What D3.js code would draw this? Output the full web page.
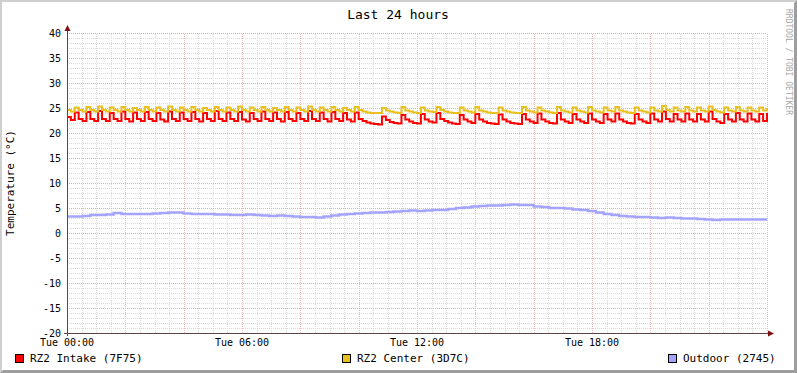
<!DOCTYPE html>
<html>
<head>
<meta charset="utf-8">
<script src="https://cdn.jsdelivr.net/npm/d3@7"></script>
<style>
  body { margin: 0; background: #fff; }
  text { font-family: "DejaVu Sans Mono", monospace; fill: #000; }
</style>
</head>
<body>
<div id="chart"></div>
<script>
// set up chart

var width = 797,
  height = 373;

var title = "Last 24 hours";
var yLabel = "Temperature (°C)";
var watermark = "RRDTOOL / TOBI OETIKER";

var yTicks = [-20, -15, -10, -5, 0, 5, 10, 15, 20, 25, 30, 35, 40];
var xTickHours = [0, 6, 12, 18];
var xTickLabels = ["Tue 00:00", "Tue 06:00", "Tue 12:00", "Tue 18:00"];

var seriesNames = ["RZ2 Intake (7F75)", "RZ2 Center (3D7C)", "Outdoor (2745)"];
var seriesColors = ["#ff0000", "#e8c020", "#a4a4ff"];

// sample interval in minutes
var fastStep = 8;
var slowStep = 16;

var intake = [23.2, 22.6,
  24.1, 22.8, 22.4, 24.2, 22.8, 22.4, 24.4, 22.8, 22.4, 24.0, 22.8, 22.4,
  24.3, 22.8, 22.3, 24.1, 22.8, 22.4, 24.2, 22.8, 22.4, 24.0, 22.7, 22.3,
  24.3, 22.8, 22.4, 24.1, 22.8, 22.4, 24.2, 22.8, 22.3, 24.0, 22.8, 22.4,
  24.4, 22.8, 22.4, 24.1, 22.8, 22.4, 24.2, 22.7, 22.3, 24.0, 22.8, 22.4,
  24.3, 22.8, 22.4, 24.1, 22.8, 22.3, 24.2, 22.8, 22.4, 24.0, 22.8, 22.4,
  24.4, 22.8, 22.4, 24.1, 22.8, 22.3, 24.2, 22.8, 22.4, 24.0, 22.7, 22.3,
  24.1, 22.8, 22.4, 22.1, 21.9, 21.8, 21.7,
  23.3, 22.6, 22.2, 22.0, 21.9,
  23.6, 22.7, 22.3, 22.0, 21.9,
  23.8, 22.7, 22.3, 22.1,
  24.0, 22.8, 22.4, 22.1, 21.9, 21.8,
  23.6, 22.7, 22.3, 22.0,
  23.8, 22.7, 22.3, 22.0, 21.9, 21.8,
  23.7, 22.7, 22.3, 22.0, 21.9, 21.8,
  23.8, 22.7, 22.3, 22.0,
  23.9, 22.7, 22.3, 22.0, 21.9,
  24.0, 22.7, 22.3, 22.0,
  23.8, 22.7, 22.3, 22.0,
  23.9, 22.7, 22.3, 22.0,
  23.8, 22.7, 22.3,
  23.9, 22.7, 22.3, 22.0, 21.9,
  23.8, 22.7, 22.3, 22.0,
  23.9, 22.7, 22.3,
  24.3, 22.8, 22.3,
  23.8, 22.7, 22.3,
  23.9, 22.7, 22.3,
  23.8, 22.7, 22.3,
  24.3, 22.8, 22.3, 22.0,
  23.8, 22.7, 22.3,
  24.0, 22.7, 22.3,
  23.9, 22.7, 22.3,
  23.8, 22.4,
  24.0];

var center = [24.6, 24.3,
  25.1, 24.6, 24.3, 25.2, 24.6, 24.3, 25.3, 24.6, 24.3, 25.1, 24.6, 24.3,
  25.2, 24.6, 24.3, 25.0, 24.6, 24.3, 25.2, 24.6, 24.3, 25.1, 24.6, 24.3,
  25.3, 24.6, 24.3, 25.1, 24.6, 24.3, 25.2, 24.6, 24.3, 25.0, 24.6, 24.3,
  25.2, 24.6, 24.3, 25.1, 24.6, 24.3, 25.3, 24.6, 24.3, 25.1, 24.6, 24.3,
  25.2, 24.6, 24.3, 25.0, 24.6, 24.3, 25.2, 24.6, 24.3, 25.1, 24.6, 24.3,
  25.3, 24.6, 24.3, 25.1, 24.6, 24.3, 25.2, 24.6, 24.3, 25.0, 24.6, 24.3,
  25.2, 24.6, 24.3, 24.1, 24.0, 24.0, 24.0,
  25.0, 24.5, 24.3, 24.1, 24.0,
  25.2, 24.5, 24.3, 24.1, 24.0,
  25.1, 24.5, 24.3, 24.2,
  25.2, 24.6, 24.3, 24.1, 24.0, 24.0,
  25.1, 24.5, 24.3, 24.1,
  25.2, 24.5, 24.3, 24.1, 24.0, 24.0,
  25.1, 24.5, 24.3, 24.1, 24.0, 24.0,
  25.2, 24.5, 24.3, 24.1,
  25.1, 24.5, 24.3, 24.1, 24.0,
  25.2, 24.5, 24.3, 24.1,
  25.1, 24.5, 24.3, 24.1,
  25.2, 24.5, 24.3, 24.1,
  25.1, 24.5, 24.3,
  25.2, 24.5, 24.3, 24.1, 24.0,
  25.1, 24.5, 24.3, 24.1,
  25.1, 24.5, 24.3,
  25.4, 24.6, 24.3,
  25.1, 24.5, 24.3,
  25.2, 24.5, 24.3,
  25.1, 24.5, 24.3,
  25.3, 24.6, 24.3, 24.1,
  25.1, 24.5, 24.3,
  25.2, 24.5, 24.3,
  25.1, 24.5, 24.3,
  25.1, 24.5,
  25.0];

var outdoor = [3.3, 3.3, 3.4, 3.6, 3.6, 3.7, 4.0, 3.8, 3.8, 3.8,
  3.8, 3.9, 4.0, 4.1, 4.1, 3.9, 3.8, 3.8, 3.8, 3.7,
  3.7, 3.6, 3.6, 3.7, 3.6, 3.5, 3.4, 3.5, 3.4, 3.3,
  3.2, 3.2, 3.1, 3.3, 3.5, 3.7, 3.8, 3.9, 4.0, 4.1,
  4.1, 4.2, 4.3, 4.4, 4.5, 4.4, 4.5, 4.6, 4.6, 4.8,
  5.0, 5.1, 5.3, 5.4, 5.5, 5.5, 5.6, 5.7, 5.6, 5.6,
  5.3, 5.2, 5.0, 5.0, 4.9, 4.7, 4.6, 4.4, 4.1, 3.8,
  3.6, 3.4, 3.3, 3.2, 3.2, 3.1, 3.0, 3.1, 3.0, 2.9,
  2.9, 2.8, 2.7, 2.6, 2.7, 2.7, 2.7, 2.7, 2.7, 2.7,
  2.7];

var x = d3.scaleLinear().domain([0, 24]).range([67, 767]);
var y = d3.scaleLinear().domain([-20, 40]).range([333, 33]);

var svg = d3.select("#chart").append("svg")
    .attr("width", width)
    .attr("height", height);

// canvas and 3d frame

svg.append("rect")
  .attr("width", width)
  .attr("height", height)
  .attr("fill", "#ffffff");

svg.append("path")
  .attr("d", "M0,0H" + width + "L" + (width - 2) + ",2H2V" + (height - 2) + "L0," + height + "Z")
  .attr("fill", "#cfcfcf");
svg.append("path")
  .attr("d", "M" + width + ",0V" + height + "H0L3," + (height - 3) + "H" + (width - 3) + "V3Z")
  .attr("fill", "#9e9e9e");

// grid

var minorX = d3.range(0, 24.01, 0.5).filter(function(h) { return h % 2 != 0; });
var majorX = d3.range(0, 24.01, 2);
var minorY = d3.range(-20, 40.01, 1).filter(function(v) { return v % 5 != 0; });

var grid = svg.append("g").attr("shape-rendering", "crispEdges");

grid.selectAll("line.minx")
  .data(minorX)
  .enter().append("line")
  .attr("x1", function(d) { return Math.round(x(d)) + 0.5; })
  .attr("x2", function(d) { return Math.round(x(d)) + 0.5; })
  .attr("y1", y(-20))
  .attr("y2", y(40))
  .attr("stroke", "#dadada")
  .attr("stroke-dasharray", "1,1");

grid.selectAll("line.miny")
  .data(minorY)
  .enter().append("line")
  .attr("x1", x(0))
  .attr("x2", x(24))
  .attr("y1", function(d) { return Math.round(y(d)) + 0.5; })
  .attr("y2", function(d) { return Math.round(y(d)) + 0.5; })
  .attr("stroke", "#dadada")
  .attr("stroke-dasharray", "1,1");

grid.selectAll("line.majx")
  .data(majorX)
  .enter().append("line")
  .attr("x1", function(d) { return Math.round(x(d)) + 0.5; })
  .attr("x2", function(d) { return Math.round(x(d)) + 0.5; })
  .attr("y1", y(-20))
  .attr("y2", y(40))
  .attr("stroke", "#f0b8b8")
  .attr("stroke-dasharray", "1,1");

grid.selectAll("line.majy")
  .data(yTicks)
  .enter().append("line")
  .attr("x1", x(0))
  .attr("x2", x(24))
  .attr("y1", function(d) { return Math.round(y(d)) + 0.5; })
  .attr("y2", function(d) { return Math.round(y(d)) + 0.5; })
  .attr("stroke", "#ecaaaa")
  .attr("stroke-dasharray", "1,1");

// series lines

function fastHours(d, i) { return i * fastStep / 60; }
function slowHours(d, i) { return i * slowStep / 60; }

var lineFast = d3.line()
  .x(function(d, i) { return x(fastHours(d, i)); })
  .y(function(d) { return y(d); })
  .curve(d3.curveStepAfter);

var lineSlow = d3.line()
  .x(function(d, i) { return x(slowHours(d, i)); })
  .y(function(d) { return y(d); })
  .curve(d3.curveStepAfter);

svg.append("path")
  .datum(intake)
  .attr("d", lineFast)
  .attr("fill", "none")
  .attr("stroke", seriesColors[0])
  .attr("stroke-width", 2);

svg.append("path")
  .datum(center)
  .attr("d", lineFast)
  .attr("fill", "none")
  .attr("stroke", seriesColors[1])
  .attr("stroke-width", 2);

svg.append("path")
  .datum(outdoor)
  .attr("d", lineSlow)
  .attr("fill", "none")
  .attr("stroke", seriesColors[2])
  .attr("stroke-width", 2.5);

// axes with arrows

var axisColor = "#5a4848", arrowColor = "#7f1010";

svg.append("line")
  .attr("x1", x(0) + 0.5).attr("x2", x(0) + 0.5)
  .attr("y1", y(-20) + 3).attr("y2", 29)
  .attr("stroke", axisColor)
  .attr("shape-rendering", "crispEdges");
svg.append("path")
  .attr("d", "M" + (x(0) + 0.5) + ",25L" + (x(0) + 3.5) + ",31L" + (x(0) - 2.5) + ",31Z")
  .attr("fill", arrowColor);

svg.append("line")
  .attr("x1", x(0) - 3).attr("x2", 769)
  .attr("y1", y(-20) + 0.5).attr("y2", y(-20) + 0.5)
  .attr("stroke", axisColor)
  .attr("shape-rendering", "crispEdges");
svg.append("path")
  .attr("d", "M774," + (y(-20) + 0.5) + "L768," + (y(-20) - 2.5) + "L768," + (y(-20) + 3.5) + "Z")
  .attr("fill", arrowColor);

// tick labels

svg.selectAll("text.ytick")
  .data(yTicks)
  .enter().append("text")
  .attr("x", 61)
  .attr("y", function(d) { return y(d) + 3.5; })
  .attr("text-anchor", "end")
  .style("font-size", "10px")
  .text(function(d) { return d; });

svg.selectAll("text.xtick")
  .data(xTickHours)
  .enter().append("text")
  .attr("x", function(d) { return x(d); })
  .attr("y", 346)
  .attr("text-anchor", "middle")
  .style("font-size", "10px")
  .text(function(d, i) { return xTickLabels[i]; });

// title, axis label, watermark

svg.append("text")
  .attr("x", 398)
  .attr("y", 19)
  .attr("text-anchor", "middle")
  .style("font-size", "13px")
  .text(title);

svg.append("text")
  .attr("transform", "translate(14,183) rotate(-90)")
  .attr("text-anchor", "middle")
  .style("font-size", "11px")
  .text(yLabel);

svg.append("text")
  .attr("transform", "translate(786,9) rotate(90)")
  .attr("text-anchor", "start")
  .style("font-size", "8px")
  .style("fill", "#a8a8a8")
  .text(watermark);

// legend

var legendX = [15, 342, 668];

var legend = svg.selectAll("g.legend")
  .data(seriesNames)
  .enter().append("g")
  .attr("class", "legend");

legend.append("rect")
  .attr("x", function(d, i) { return legendX[i] + 0.5; })
  .attr("y", 354.5)
  .attr("width", 8)
  .attr("height", 8)
  .attr("fill", function(d, i) { return seriesColors[i]; })
  .attr("stroke", "#000");

legend.append("text")
  .attr("x", function(d, i) { return legendX[i] + 15; })
  .attr("y", 362)
  .style("font-size", "11px")
  .text(function(d) { return d; });
</script>
</body>
</html>
